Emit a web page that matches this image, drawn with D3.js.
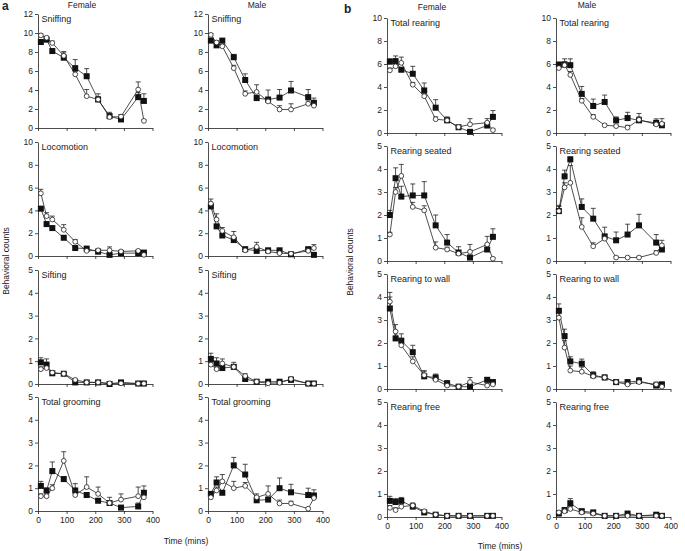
<!DOCTYPE html>
<html><head><meta charset="utf-8">
<script src="https://cdn.jsdelivr.net/npm/d3@7"></script>
<style>
body{margin:0;background:#fff;}
text{font-family:"Liberation Sans",Arial,sans-serif;fill:#222;}
</style></head><body>
<svg id="c" width="685" height="551"></svg>
<script>
const times = [10,30,50,90,130,170,210,250,290,350,370];
const xTicks = [0,100,200,300,400];

// Panel a
const sniffFSq = [9.05,9.3,8.1,7.4,6.3,5.45,3.0,1.25,0.9,3.25,2.85];
const sniffFSqE = [0.2,0.2,0.2,0.65,0.9,0.8,0.6,0.4,0.5,0.5,0.75];
const sniffFCi = [9.75,9.5,8.95,7.6,5.65,3.35,3.0,1.15,1.2,4.05,0.75];
const sniffFCiE = [0.15,0.15,0.2,0.3,0.3,0.7,0.3,0.2,0.2,0.8,0.1];
const sniffMSq = [9.2,8.7,9.2,7.45,5.05,3.15,3.0,3.2,3.95,3.25,2.65];
const sniffMSqE = [0.2,0.2,0.2,0.3,0.65,0.3,1.0,0.85,0.95,0.8,0.5];
const sniffMCi = [9.8,9.0,8.6,6.3,3.6,3.8,2.8,1.95,1.95,2.55,2.35];
const sniffMCiE = [0.15,0.2,0.2,0.3,0.3,0.75,0.3,0.4,0.6,0.3,0.3];

const locoFSq = [4.15,2.8,2.45,1.6,0.7,0.65,0.38,0.1,0.25,0.25,0.3];
const locoFSqE = [0.2,0.15,0.15,0.15,0.1,0.1,0.1,0.1,0.1,0.1,0.1];
const locoFCi = [5.5,3.5,3.2,2.3,1.25,0.45,0.5,0.5,0.4,0.45,0.1];
const locoFCiE = [0.35,0.3,0.3,0.45,0.2,0.1,0.1,0.3,0.1,0.1,0.05];
const locoMSq = [4.35,2.6,1.8,1.4,0.6,0.45,0.5,0.5,0.15,0.6,0.1];
const locoMSqE = [0.2,0.15,0.15,0.15,0.1,0.1,0.1,0.1,0.05,0.1,0.05];
const locoMCi = [4.6,3.2,2.2,1.65,0.5,0.8,0.4,0.25,0.2,0.45,0.7];
const locoMCiE = [0.4,0.5,0.3,0.5,0.1,0.4,0.1,0.1,0.1,0.1,0.3];

const siftFSq = [0.95,0.85,0.47,0.45,0.07,0.07,0.07,0.0,0.07,0.02,0.02];
const siftFSqE = [0.2,0.25,0.05,0.05,0.03,0.03,0.03,0.02,0.03,0.02,0.02];
const siftFCi = [0.65,0.7,0.5,0.45,0.18,0.07,0.07,0.03,0.03,0.02,0.02];
const siftFCiE = [0.1,0.1,0.05,0.05,0.05,0.03,0.03,0.02,0.02,0.02,0.02];
const siftMSq = [1.1,0.9,0.7,0.75,0.22,0.1,0.1,0.1,0.18,0.02,0.02];
const siftMSqE = [0.25,0.25,0.1,0.1,0.1,0.03,0.03,0.03,0.05,0.02,0.02];
const siftMCi = [0.85,0.65,0.9,0.75,0.35,0.1,0.03,0.05,0.22,0.02,0.02];
const siftMCiE = [0.1,0.1,0.2,0.2,0.1,0.03,0.03,0.03,0.1,0.02,0.02];

const groomFSq = [1.1,0.9,1.75,1.4,0.9,0.7,0.45,0.35,0.15,0.2,0.8];
const groomFSqE = [0.2,0.1,0.4,0.1,0.3,0.1,0.1,0.25,0.05,0.15,0.3];
const groomFCi = [0.65,0.65,1.0,2.2,0.7,1.05,0.75,0.35,0.5,0.65,0.6];
const groomFCiE = [0.1,0.1,0.15,0.4,0.2,0.45,0.3,0.1,0.25,0.4,0.15];
const groomMSq = [0.75,1.25,0.8,2.0,1.6,0.47,0.5,1.0,0.82,0.7,0.68];
const groomMSqE = [0.1,0.25,0.1,0.35,0.45,0.1,0.1,0.45,0.35,0.3,0.25];
const groomMCi = [0.6,0.9,1.3,1.0,1.1,0.6,0.75,0.33,0.33,0.1,0.57];
const groomMCiE = [0.1,0.15,0.3,0.3,0.15,0.15,0.35,0.15,0.1,0.05,0.1];

// Panel b
const totFSq = [6.2,6.25,5.5,5.15,3.7,2.2,1.1,0.5,0.1,0.65,1.4];
const totFSqE = [0.25,0.45,0.2,0.65,0.65,0.7,0.3,0.1,0.1,0.3,0.55];
const totFCi = [5.45,5.8,6.1,4.2,3.2,1.2,1.1,0.52,0.75,0.9,0.25];
const totFCiE = [0.2,0.2,0.5,0.2,0.2,0.2,0.2,0.1,0.5,0.35,0.1];
const totMSq = [5.95,5.95,5.9,3.4,2.35,2.7,1.1,1.3,1.1,0.88,0.67];
const totMSqE = [0.2,0.5,0.55,0.65,0.6,0.6,0.3,0.5,0.3,0.35,0.2];
const totMCi = [5.65,5.9,5.05,2.8,1.4,0.67,0.6,0.47,1.15,0.75,0.8];
const totMCiE = [0.2,0.3,0.3,0.2,0.2,0.1,0.1,0.2,0.55,0.2,0.45];

const seatFSq = [2.0,3.6,2.8,2.85,2.85,1.55,0.8,0.37,0.15,0.5,1.05];
const seatFSqE = [0.2,0.45,0.45,0.5,0.6,0.45,0.35,0.25,0.1,0.2,0.35];
const seatFCi = [1.15,3.0,3.7,2.35,2.2,0.58,0.5,0.32,0.4,0.72,0.1];
const seatFCiE = [0.1,0.2,0.5,0.2,0.2,0.25,0.1,0.1,0.32,0.35,0.05];
const seatMSq = [2.17,3.68,4.42,2.35,1.84,1.07,0.9,1.15,1.55,0.8,0.5];
const seatMSqE = [0.25,0.27,0.1,0.35,0.45,0.4,0.36,0.45,0.48,0.35,0.1];
const seatMCi = [2.17,3.2,3.4,1.48,0.64,0.97,0.15,0.15,0.15,0.35,0.68];
const seatMCiE = [0.2,0.2,0.75,0.4,0.15,0.15,0.05,0.05,0.05,0.1,0.22];

const wallFSq = [3.5,2.2,2.1,1.6,0.55,0.5,0.25,0.1,0.1,0.4,0.3];
const wallFSqE = [0.5,0.3,0.3,0.3,0.2,0.15,0.1,0.05,0.05,0.1,0.1];
const wallFCi = [3.8,2.5,1.9,1.2,0.6,0.4,0.15,0.1,0.3,0.15,0.2];
const wallFCiE = [0.4,0.3,0.3,0.2,0.2,0.1,0.2,0.1,0.2,0.1,0.1];
const wallMSq = [3.4,2.3,1.2,1.1,0.6,0.5,0.3,0.3,0.35,0.15,0.2];
const wallMSqE = [0.3,0.3,0.2,0.2,0.15,0.1,0.1,0.1,0.15,0.1,0.1];
const wallMCi = [3.1,1.8,0.8,0.75,0.55,0.5,0.3,0.2,0.3,0.2,0.1];
const wallMCiE = [0.3,0.3,0.2,0.2,0.15,0.1,0.1,0.1,0.15,0.1,0.05];

const freeFSq = [0.7,0.65,0.7,0.45,0.2,0.1,0.05,0.05,0.05,0.05,0.05];
const freeFSqE = [0.2,0.15,0.15,0.15,0.05,0.05,0.03,0.03,0.03,0.03,0.03];
const freeFCi = [0.4,0.3,0.45,0.5,0.25,0.1,0.05,0.05,0.05,0.05,0.05];
const freeFCiE = [0.1,0.1,0.1,0.1,0.05,0.05,0.03,0.03,0.03,0.03,0.03];
const freeMSq = [0.15,0.3,0.6,0.25,0.2,0.05,0.05,0.15,0.05,0.1,0.05];
const freeMSqE = [0.05,0.1,0.2,0.1,0.05,0.03,0.03,0.05,0.03,0.05,0.03];
const freeMCi = [0.2,0.25,0.35,0.2,0.15,0.05,0.05,0.05,0.05,0.05,0.05];
const freeMCiE = [0.05,0.1,0.1,0.05,0.05,0.03,0.03,0.03,0.03,0.03,0.03];

const labelsA = ["Sniffing","Locomotion","Sifting","Total grooming"];
const labelsB = ["Total rearing","Rearing seated","Rearing to wall","Rearing free"];
const yMaxA = [12,10,5,5], yStepA = [2,2,1,1];
const yMaxB = [10,5,5,5], yStepB = [2,1,1,1];

const svg = d3.select("#c");
const colX = [38,208,387,556];
const panelW = 114.5;
const rowTopA = [14,142,270,397], hA = 114;
const rowTopB = [18,146,274,402], hB = 115;

const panels = [
  {c:0,r:0,sq:sniffFSq,sqe:sniffFSqE,ci:sniffFCi,cie:sniffFCiE},
  {c:1,r:0,sq:sniffMSq,sqe:sniffMSqE,ci:sniffMCi,cie:sniffMCiE},
  {c:0,r:1,sq:locoFSq,sqe:locoFSqE,ci:locoFCi,cie:locoFCiE},
  {c:1,r:1,sq:locoMSq,sqe:locoMSqE,ci:locoMCi,cie:locoMCiE},
  {c:0,r:2,sq:siftFSq,sqe:siftFSqE,ci:siftFCi,cie:siftFCiE},
  {c:1,r:2,sq:siftMSq,sqe:siftMSqE,ci:siftMCi,cie:siftMCiE},
  {c:0,r:3,sq:groomFSq,sqe:groomFSqE,ci:groomFCi,cie:groomFCiE},
  {c:1,r:3,sq:groomMSq,sqe:groomMSqE,ci:groomMCi,cie:groomMCiE},
  {c:2,r:0,sq:totFSq,sqe:totFSqE,ci:totFCi,cie:totFCiE},
  {c:3,r:0,sq:totMSq,sqe:totMSqE,ci:totMCi,cie:totMCiE},
  {c:2,r:1,sq:seatFSq,sqe:seatFSqE,ci:seatFCi,cie:seatFCiE},
  {c:3,r:1,sq:seatMSq,sqe:seatMSqE,ci:seatMCi,cie:seatMCiE},
  {c:2,r:2,sq:wallFSq,sqe:wallFSqE,ci:wallFCi,cie:wallFCiE},
  {c:3,r:2,sq:wallMSq,sqe:wallMSqE,ci:wallMCi,cie:wallMCiE},
  {c:2,r:3,sq:freeFSq,sqe:freeFSqE,ci:freeFCi,cie:freeFCiE},
  {c:3,r:3,sq:freeMSq,sqe:freeMSqE,ci:freeMCi,cie:freeMCiE}
];

panels.forEach(p => {
  const isA = p.c < 2;
  const top = isA ? rowTopA[p.r] : rowTopB[p.r];
  const h = isA ? hA : hB;
  const yMax = isA ? yMaxA[p.r] : yMaxB[p.r];
  const yStep = isA ? yStepA[p.r] : yStepB[p.r];
  const label = isA ? labelsA[p.r] : labelsB[p.r];
  const x = d3.scaleLinear().domain([0,400]).range([colX[p.c], colX[p.c]+panelW]);
  const y = d3.scaleLinear().domain([0,yMax]).range([top+h, top]);
  const g = svg.append("g");

  const yAx = g.append("g").attr("transform",`translate(${colX[p.c]},0)`)
    .call(d3.axisLeft(y).tickValues(d3.range(0,yMax+0.001,yStep)).tickFormat(d3.format("d"))
      .tickSize(3).tickSizeOuter(0).tickPadding(2));
  const xAx = g.append("g").attr("transform",`translate(0,${top+h})`)
    .call(d3.axisBottom(x).tickValues(xTicks).tickSize(3).tickSizeOuter(0).tickPadding(3)
      .tickFormat(p.r===3 ? d3.format("d") : ""));
  [yAx,xAx].forEach(a => {
    a.selectAll("path,line").attr("stroke","#222").attr("stroke-width",0.8);
    a.selectAll("text").style("font-size","8.5px").attr("fill","#222");
  });

  g.append("text").attr("x",colX[p.c]+3.5).attr("y",top+7.5)
    .style("font-size","9px").text(label);

  const line = d3.line().x((d,i)=>x(times[i])).y(d=>y(d));
  const drawSeries = (vals, errs, kind) => {
    times.forEach((t,i) => {
      const cx = x(t), y0 = y(vals[i]), y1 = y(vals[i]+errs[i]);
      g.append("line").attr("x1",cx).attr("x2",cx).attr("y1",y0).attr("y2",y1)
        .attr("stroke","#222").attr("stroke-width",0.8);
      g.append("line").attr("x1",cx-2.5).attr("x2",cx+2.5).attr("y1",y1).attr("y2",y1)
        .attr("stroke","#222").attr("stroke-width",0.8);
    });
    g.append("path").attr("d",line(vals)).attr("fill","none").attr("stroke","#222").attr("stroke-width",0.8);
    if (kind === "sq") {
      g.selectAll(null).data(vals).enter().append("rect")
        .attr("x",(d,i)=>x(times[i])-3).attr("y",d=>y(d)-3)
        .attr("width",6).attr("height",6).attr("fill","#111");
    } else {
      g.selectAll(null).data(vals).enter().append("circle")
        .attr("cx",(d,i)=>x(times[i])).attr("cy",d=>y(d)).attr("r",2.4)
        .attr("fill","#fff").attr("stroke","#222").attr("stroke-width",0.8);
    }
  };
  drawSeries(p.sq, p.sqe, "sq");
  drawSeries(p.ci, p.cie, "ci");
});

svg.append("text").attr("x",2).attr("y",10).style("font-size","12px").style("font-weight","bold").text("a");
svg.append("text").attr("x",344).attr("y",13).style("font-size","12px").style("font-weight","bold").text("b");
[["Female",82,8],["Male",257,8],["Female",432,10],["Male",587,8]].forEach(d => {
  svg.append("text").attr("x",d[1]).attr("y",d[2]).attr("text-anchor","middle").style("font-size","8.5px").text(d[0]);
});
[[9,261],[353,262]].forEach(d => {
  svg.append("text").attr("transform",`translate(${d[0]},${d[1]}) rotate(-90)`)
    .attr("text-anchor","middle").style("font-size","8.5px").text("Behavioral counts");
});
[[186,544],[500,549]].forEach(d => {
  svg.append("text").attr("x",d[0]).attr("y",d[1]).attr("text-anchor","middle").style("font-size","8.5px").text("Time (mins)");
});
</script></body></html>
